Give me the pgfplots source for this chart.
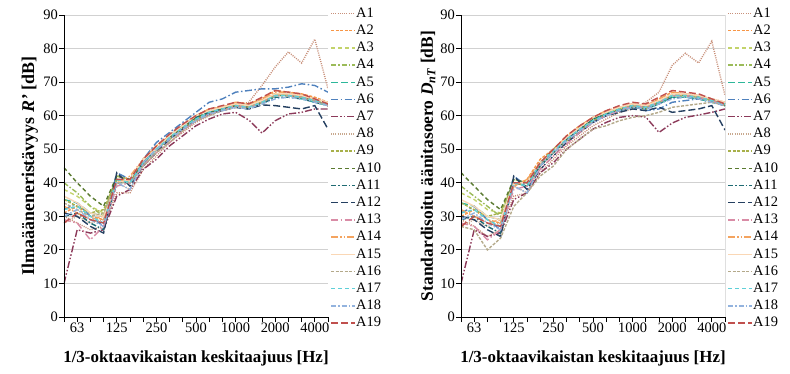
\documentclass[border=0pt]{standalone}
\usepackage{pgfplots}
\pgfplotsset{compat=1.18}
\usepackage{pgfplotstable}
\usepackage{fontspec}
\setmainfont{Liberation Serif}

\definecolor{c1}{HTML}{C8907A}
\definecolor{c2}{HTML}{F79646}
\definecolor{c3}{HTML}{C3D36B}
\definecolor{c4}{HTML}{9BBB59}
\definecolor{c5}{HTML}{2DB79A}
\definecolor{c6}{HTML}{4F81BD}
\definecolor{c7}{HTML}{8C3A5A}
\definecolor{c8}{HTML}{C8A88E}
\definecolor{c9}{HTML}{A8B04A}
\definecolor{c10}{HTML}{5A7A30}
\definecolor{c11}{HTML}{1F6B73}
\definecolor{c12}{HTML}{243F60}
\definecolor{c13}{HTML}{D98CA6}
\definecolor{c14}{HTML}{F4A460}
\definecolor{c15}{HTML}{FAD7B5}
\definecolor{c16}{HTML}{B4A98A}
\definecolor{c17}{HTML}{5FD0D8}
\definecolor{c18}{HTML}{93B3DE}
\definecolor{c19}{HTML}{C0504D}

\pgfplotstableread{
name 0 1 2 3 4 5 6 7 8 9 10 11 12 13 14 15 16 17 18 19 20
A1 30 28 26 27 37 37 44 48 52 55 58 60 62 63 64 69 74.5 79 75.7 82.8 68
A2 31 33 30 29 40 41 47 51 54 57 60 62 62.5 64 63.5 65 67.5 67 66.5 65.5 64
A3 38 36 33 31 42 41 46 50 53 56 59 61 62 63 63 64 66 66.5 66 65 63.5
A4 40 37 33 30 42 41 47 50 54 57 60 61.5 62.5 63.5 63 64.5 66.5 66 65.5 64.5 63
A5 35 34 31 30 41 40 46 50 54 57 59.5 61 62 63 62 63.5 66 66 65 64 63
A6 32 34 30 27 43 41 47 52 55 58 61 64 65 67 67.5 68 68 68.5 69.5 69 67
A7 10 26 25 26 36 38 44 47 51 54 57 59 60.5 61 58.7 54.8 58.5 60.5 61 62 62
A8 28 30 28 29 40 38 46 50 53 56 59 61 62 63.5 63 64.5 66.5 66.5 66 65 64
A9 35 33 31 32 41 40 46 50 53 56 59 60.5 61.5 63 62.5 64 66.5 66 65.5 64.5 63.5
A10 44.5 40 36 33 42 41 46 50 53.5 56.5 59.5 61 62 63 62.5 64 66 66 65.5 64.5 63
A11 30 31 28 26 40 40 46 50 54 57 59.5 61 62 62.5 62 63.5 65.5 65.5 65 64 63
A12 31 30 27 25 43 39 45 49 53 56 58.5 60.5 61.5 62.5 62 63.2 63 62.5 62 63 56
A13 29 28 23 27 39 40 45 49 52 55.5 58.5 60.5 61.5 63 62.5 64 66 66 65.5 64.5 63
A14 33 31 29 30 40 42 47 51 54 57 60 62 62.5 64 63.5 65 67 67 66 65 64
A15 36 34 31 30 40 41 47 50 54 57 60 61.5 62.5 63.5 63 64.5 66.5 66.5 66 65 64
A16 34 32 30 31 40 40 45 49 52 55.5 58.5 60 61.5 62.5 62.5 64 66 66 65.5 64.5 63
A17 32 33 30 28 41 40 46 50 53.5 56.5 59 61 62 63 62.5 64 66 66 65.5 64.5 63.5
A18 30 32 29 27 40 38 46 50 53 56 58.5 60.5 61.5 62.5 62 63.5 65 65.5 65 64 63
A19 28 31 29 28 41 41 47 51 54.5 57.5 60 62 63 64 63.5 65.5 67.5 67 66.5 65 63.5
}\rawR

\pgfplotstableread{
name 0 1 2 3 4 5 6 7 8 9 10 11 12 13 14 15 16 17 18 19 20
A1 29 27 24 26 36 37 43 47 51 54 57 59 61 62 64 67 75 78.6 75.7 82.2 66
A2 30 32 29 28 39 41 47 50 54 57 59.5 61 62.5 63.5 63 65 67 66.5 66 65 63.5
A3 37 35 32 31 41 40 46 49 53 56 58.5 60.5 62 63 62.5 64 66 66 65.5 64.5 63.5
A4 39 36 33 30 41 40 46 50 53.5 56.5 59 61 62 63 62.5 64 66.5 66 65.5 64.5 63
A5 34 33 30 29 40 40 46 49.5 53.5 56.5 59 60.5 61.5 62.5 62 63.5 65.5 65.5 65 64 63
A6 31 33 29 26 42 39 46 50 53 56 58 60 61.5 62.5 61.5 62 64 64.5 65 65 63
A7 10 26 24 25 35 37 43 46 50 53 56 58 59.5 60 59.6 55 57.8 59.5 60.2 61 62
A8 27 29 27 28 39 37 45 49 52 55 58 60 61.5 63 62.5 64.5 66 66.5 66 65 64
A9 34 32 30 31 40 39 45 49 52.5 55.5 58.5 60 61.5 62.5 62 64 66 66 65.5 64.5 63.5
A10 43 39 35 32 41 40 45 49 53 56 59 60.5 62 63 62.5 64 66 66 65.5 64.5 63
A11 29 30 27 25 40 39 45 49 53 56 59 60.5 61.5 62.5 62 63.5 65.5 65.5 65 64 63
A12 30 29 26 24 42 38 44 48 52 55 58 60 61 62 61.5 62.5 61 61.5 62 63 55.7
A13 28 27 23 26 38 39 44 48 51.5 55 58 60 61.5 63 62.5 64 66 66 65.5 64.5 63
A14 32 30 28 29 39 41 46 50 53.5 56.5 59.5 61.5 62.5 63.5 63 65 67 66.5 66 65 64
A15 35 33 30 29 40 40 46 49.5 53.5 56.5 59.5 61 62.5 63.5 63 64.5 66.5 66.5 66 65 64
A16 27 26 20 23.5 33 37 42 45 50 53 56 57 58.5 59.5 60 61 62.5 63 63.5 64 63
A17 31 32 29 27 40 39 46 49.5 53 56 58.5 60.5 62 63 62.5 64 66 66 65.5 64.5 63.5
A18 29 31 28 26 39 37 45 49 52.5 55.5 58 60 61.5 62.5 62 63.5 65 65.5 65 64 63
A19 27 30 28 27 40 40 46 50 54 57 59.5 61.5 63 64 63.5 65.5 67.5 67 66.5 65 63.5
}\rawD

\pgfplotstabletranspose[colnames from=name]{\tabR}{\rawR}
\pgfplotstabletranspose[colnames from=name]{\tabD}{\rawD}

\pgfplotscreateplotcyclelist{mylist}{
{c1, dash pattern=on 1bp off 1.2bp},
{c2, dash pattern=on 3bp off 1.5bp},
{c3, dash pattern=on 4bp off 3bp},
{c4, dash pattern=on 5bp off 2bp on 1.5bp off 2bp},
{c5, dash pattern=on 7bp off 3bp},
{c6, dash pattern=on 7bp off 2.5bp on 1.5bp off 2.5bp},
{c7, dash pattern=on 7bp off 2bp on 1.5bp off 2bp on 1.5bp off 2bp},
{c8, dash pattern=on 1bp off 1.2bp},
{c9, dash pattern=on 3bp off 1.5bp},
{c10, dash pattern=on 4bp off 3bp},
{c11, dash pattern=on 5bp off 2bp on 1.5bp off 2bp},
{c12, dash pattern=on 7bp off 3bp},
{c13, dash pattern=on 7bp off 2.5bp on 1.5bp off 2.5bp},
{c14, dash pattern=on 7bp off 2bp on 1.5bp off 2bp on 1.5bp off 2bp},
{c15, solid},
{c16, dash pattern=on 3bp off 1.5bp},
{c17, dash pattern=on 4bp off 3bp},
{c18, dash pattern=on 5bp off 2bp on 1.5bp off 2bp},
{c19, dash pattern=on 7bp off 3bp},
}

\pgfplotsset{
  myaxis/.style={
    scale only axis, width=264bp, height=302bp,
    xmin=0, xmax=20, ymin=0, ymax=90,
    xtick={0,...,20},
    xticklabels={,63,,,125,,,250,,,500,,,1000,,,2000,,,4000,},
    ytick={0,10,...,90},
    ymajorgrids, grid style={draw=black!18, line width=0.9bp},
    axis line style={draw=none},
    tick align=outside, xtick pos=bottom, ytick pos=left,
    major tick length=5bp, tick style={black, line width=0.8bp},
    /pgf/number format/assume math mode=true,
    tick label style={font=\fontsize{14.5}{16}\selectfont},
    xticklabel style={inner sep=1bp},
    yticklabel style={inner sep=1bp},
    label style={font=\bfseries\fontsize{17}{19}\selectfont},
    xlabel={1/3-oktaavikaistan keskitaajuus [Hz]},
    xlabel style={at={(axis description cs:0.5,0)}, anchor=center, yshift=-41bp},
    cycle list name=mylist,
    every axis plot/.append style={line width=1.4bp},
    legend image code/.code={\draw[##1, line width=1.4bp] (0bp,0bp) -- (24bp,0bp);},
    legend cell align=left,
    legend style={draw=none, fill=none, inner sep=0pt,
      at={(axis description cs:1.008,1.028)}, anchor=north west,
      font=\fontsize{14.5}{16}\selectfont, row sep=3.7bp,
      nodes={inner sep=0.5bp, text height=10bp, text depth=2.5bp}},
    legend entries={A1,A2,A3,A4,A5,A6,A7,A8,A9,A10,A11,A12,A13,A14,A15,A16,A17,A18,A19},
  }
}

\begin{document}
\begin{tikzpicture}
\useasboundingbox (-64bp,-57bp) rectangle (726bp,317bp);
\begin{axis}[myaxis, at={(0bp,0bp)}, anchor=south west,
  ylabel={Ilmaääneneristävyys \textit{R'} [dB]},
  ylabel style={at={(axis description cs:-0.129,0.5)}, anchor=center, font=\bfseries\fontsize{18}{20}\selectfont}]
\pgfplotsinvokeforeach{1,...,19}{
  \addplot table[x expr=\coordindex, y=A#1] {\tabR};
}
\draw[black, line width=0.8bp] (rel axis cs:0,1) -- (rel axis cs:0,0) -- (rel axis cs:1,0) -- (rel axis cs:1,1);
\end{axis}
\begin{axis}[myaxis, at={(397bp,0bp)}, anchor=south west,
  ylabel={Standardisoitu äänitasoero \textit{D}\textsubscript{\textit{nT}} [dB]},
  ylabel style={at={(axis description cs:-0.125,0.5)}, anchor=center, font=\bfseries\fontsize{17.5}{19}\selectfont}]
\pgfplotsinvokeforeach{1,...,19}{
  \addplot table[x expr=\coordindex, y=A#1] {\tabD};
}
\draw[black, line width=0.8bp] (rel axis cs:0,1) -- (rel axis cs:0,0) -- (rel axis cs:1,0) -- (rel axis cs:1,1);
\end{axis}
\end{tikzpicture}
\end{document}
